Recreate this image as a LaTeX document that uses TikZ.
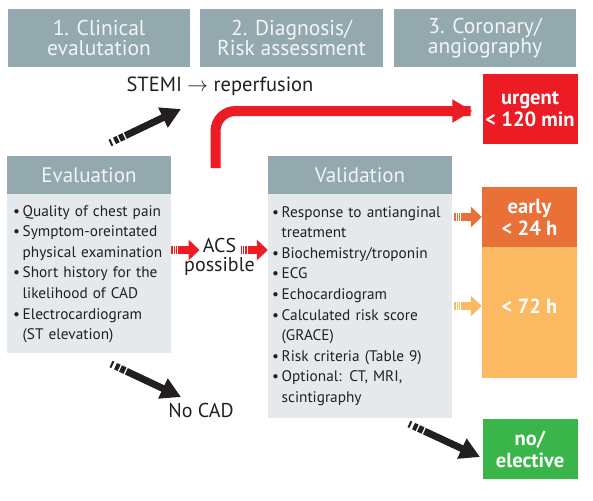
\documentclass[tikz,border=0pt]{standalone}
\usepackage{fontspec}
\setmainfont{PT Sans}
\usetikzlibrary{arrows.meta}
\definecolor{hdr}{HTML}{93A9AD}
\definecolor{hdrtxt}{HTML}{F2F5F6}
\definecolor{bodyfill}{HTML}{E6E9EC}
\definecolor{ink}{HTML}{231F20}
\definecolor{redc}{HTML}{ED1C24}
\definecolor{orangec}{HTML}{E97036}
\definecolor{lightor}{HTML}{FBB961}
\definecolor{greenc}{HTML}{39B54A}
\tikzset{
  hdrbox/.style={fill=hdr, text=hdrtxt, minimum width=182pt, minimum height=58pt, inner sep=0pt, align=center, font=\fontsize{21.5}{20}\selectfont},
  subhdr/.style={fill=hdr, text=hdrtxt, minimum height=38pt, inner sep=0pt, font=\fontsize{21}{20}\selectfont},
  bodybox/.style={fill=bodyfill, inner sep=0pt},
  listtext/.style={anchor=base west, inner sep=0pt, text=ink, font=\fontsize{15.3}{20.6}\selectfont},
  colbox/.style={minimum width=95pt, inner sep=0pt, text=white, align=center, font=\bfseries\fontsize{20.5}{22}\selectfont},
  plaintext/.style={inner sep=0pt, text=ink, font=\fontsize{20}{19.5}\selectfont},
  blkarrow/.style={draw=ink, line width=7pt, dash pattern=on 2pt off 3pt on 4pt off 1.5pt on 5pt off 1.5pt on 200pt, -{Triangle[length=20pt,width=21pt]}},
  stripearrow/.style={line width=8pt, dash pattern=on 1.4pt off 1pt on 1.4pt off 1pt on 1.4pt off 1pt on 200pt, -{Triangle[length=11pt,width=20pt]}},
}
\newcommand{\itm}[1]{\par\hangindent=9.5pt\hangafter=1\noindent\makebox[9.5pt][l]{\textbullet}#1}
\newcommand{\nl}{\hfil\break}
\begin{document}
\begin{tikzpicture}[x=1pt,y=-1pt]
\useasboundingbox (0,0) rectangle (593,500);
% top headers
\node[hdrbox] (h1) at (99,38) {1. Clinical\\evalutation};
\node[hdrbox, minimum width=183pt] (h2) at (291.5,38) {2. Diagnosis/\\Risk assessment};
\node[hdrbox] (h3) at (485,38) {3. Coronary/\\angiography};
% evaluation
\node[subhdr, minimum width=164pt] (evalhdr) at (89,175) {Evaluation};
\node[bodybox, minimum width=164pt, minimum height=159pt] (evalbody) at (89,273.5) {};
\node[listtext, text width=162pt] (evaltext) at (13,195.5) {\raggedright
\itm{Quality of chest pain}
\itm{Symptom-oreintated\nl physical examination}
\itm{Short history for the\nl likelihood of CAD}
\itm{Electrocardiogram\nl (ST elevation)}\par};
% validation
\node[subhdr, minimum width=184pt] (valhdr) at (360,175) {Validation};
\node[bodybox, minimum width=184pt, minimum height=224pt] (valbody) at (360,306) {};
\node[listtext, text width=182pt] (valtext) at (272,196.5) {\raggedright
\itm{Response to antianginal\nl treatment}
\itm{Biochemistry/troponin}
\itm{ECG}
\itm{Echocardiogram}
\itm{Calculated risk score\nl (GRACE)}
\itm{Risk criteria (Table 9)}
\itm{Optional: CT, MRI,\nl scintigraphy}\par};
% right column boxes
\node[colbox, fill=redc, minimum height=70pt] (urgent) at (530,109) {urgent\\< 120 min};
\node[colbox, fill=orangec, minimum height=60pt] (early) at (529.5,217) {early\\< 24 h};
\node[colbox, fill=lightor, minimum height=131pt] (late) at (529.5,312.5) {};
\node[colbox] (late72) at (529.5,306) {< 72 h};
\node[colbox, fill=greenc, minimum height=60pt] (elective) at (530,449) {no/\\elective};
% plain labels
\node[plaintext, font=\fontsize{20.5}{20}\selectfont] (stemi) at (220,86) {STEMI $\rightarrow$ reperfusion};
\node[plaintext, align=center] (acs) at (219.5,257) {ACS\\possible};
\node[plaintext] (nocad) at (201,410) {No CAD};
% coordinates for free arrow ends
\coordinate (s1) at (110,143);
\coordinate (s2) at (181,109);
\coordinate (n1) at (111,364);
\coordinate (n2) at (181,397);
\coordinate (e1) at (409,424);
\coordinate (e2) at (480,457);
\coordinate (r0) at (215.5,168);
\coordinate (acsy) at (0,250);
% red urgent arrow
\draw[redc, line width=10pt, rounded corners=20pt, -{Triangle[length=20pt,width=22pt]}] (r0) |- (urgent.west |- 0,111) -- ++(-10,0);
% black arrows
\draw[blkarrow] (s1) -- (s2);
\draw[blkarrow] (n1) -- (n2);
\draw[blkarrow] (e1) -- (e2);
% ACS arrows
\draw[stripearrow, draw=redc] (evalbody.east |- acsy) -- ([xshift=-20pt]acs.center |- acsy);
\draw[stripearrow, draw=redc] ([xshift=21pt]acs.center |- acsy) -- (valbody.west |- acsy);
% orange arrows
\draw[stripearrow, draw=orangec] ([xshift=2pt]valbody.east |- early) -- (early.west);
\draw[stripearrow, draw=lightor] ([xshift=2pt]valbody.east |- late72) -- (late.west |- late72);
\end{tikzpicture}
\end{document}
